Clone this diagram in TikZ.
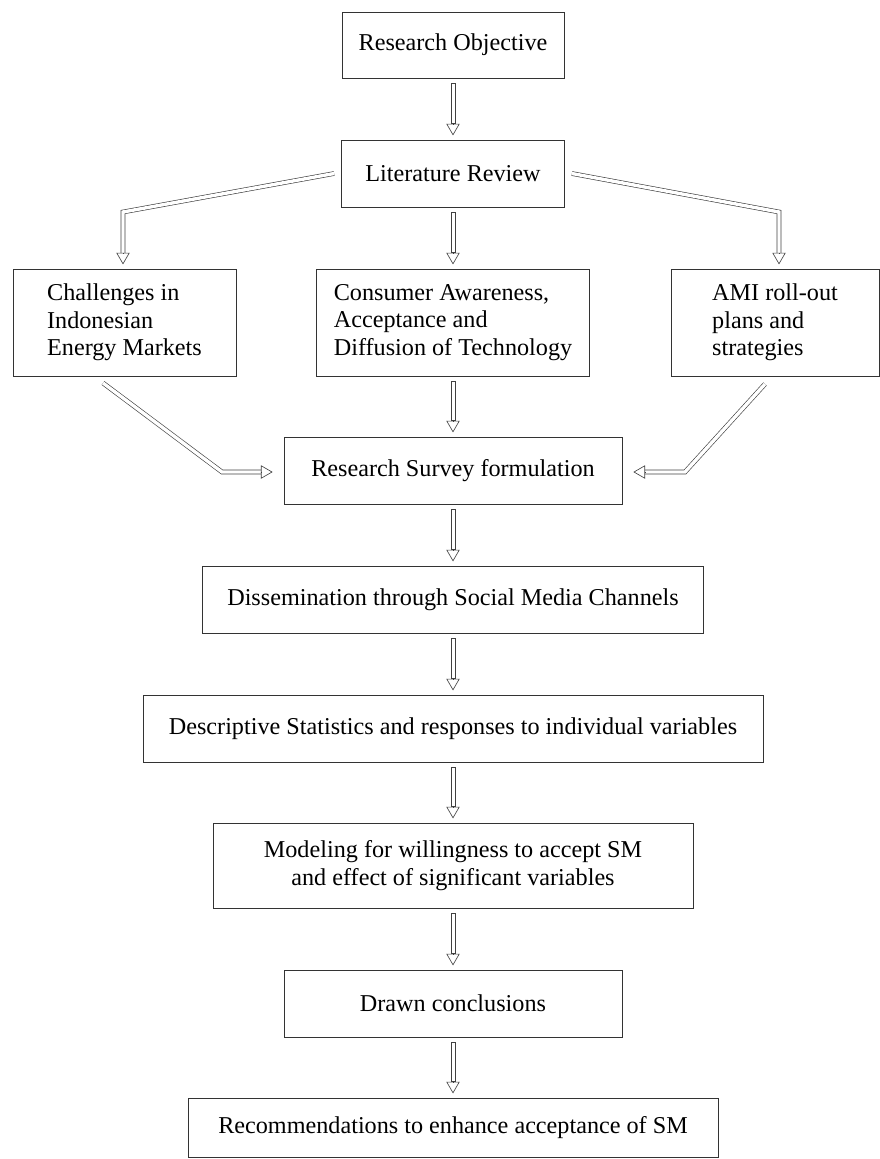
\documentclass[tikz,border=0pt]{standalone}
\usepackage{fontspec}
\setmainfont{Liberation Serif}
\usetikzlibrary{arrows.meta}

\begin{document}
\begin{tikzpicture}[x=0.025cm,y=-0.025cm,
    box/.style={draw=black!80, line width=0.5pt, align=left, inner sep=0pt,
      font=\fontsize{17.2pt}{19.5pt}\selectfont},
    shaft/.style={draw=black!75, double, double distance=2.4pt, line width=0.45pt},
    stem/.style={draw=black!75, line width=0.45pt},
    head/.style={draw=black!75, line width=0.45pt, -{Triangle[open,length=8.3pt,width=9.5pt]}}]
  \useasboundingbox (0,0) rectangle (880,1159);
  % boxes
  \node[box, minimum width=5.55cm, minimum height=1.65cm] (ro) at (453,45) {Research Objective};
  \node[box, minimum width=5.575cm, minimum height=1.675cm] (lit) at (453,173.5) {Literature Review};
  \node[box, minimum width=5.575cm, minimum height=2.675cm] (chal) at (124.5,322.5)
    {Challenges in\\Indonesian\\Energy Markets};
  \node[box, minimum width=6.825cm, minimum height=2.675cm] (cons) at (453,322.5)
    {Consumer Awareness,\\Acceptance and\\Diffusion of Technology};
  \node[box, minimum width=5.2cm, minimum height=2.675cm] (ami) at (775,322.5)
    {AMI roll-out\\plans and\\strategies};
  \node[box, minimum width=8.45cm, minimum height=1.675cm] (surv) at (453,470.5) {Research Survey formulation};
  \node[box, minimum width=12.525cm, minimum height=1.675cm] (diss) at (453,599.5)
    {Dissemination through Social Media Channels};
  \node[box, minimum width=15.5cm, minimum height=1.675cm] (desc) at (453,728.5)
    {Descriptive Statistics and responses to individual variables};
  \node[box, align=center, minimum width=12cm, minimum height=2.125cm] (model) at (453,865.5)
    {Modeling for willingness to accept SM\\and effect of significant variables};
  \node[box, minimum width=8.45cm, minimum height=1.675cm] (drawn) at (453,1003.5) {Drawn conclusions};
  \node[box, minimum width=13.25cm, minimum height=1.475cm] (rec) at (453,1127.5)
    {Recommendations to enhance acceptance of SM};
  % straight arrows down the middle
  \foreach \from/\to in {ro/lit, lit/cons, cons/surv, surv/diss, diss/desc, desc/model, model/drawn, drawn/rec} {
    \draw[stem] ([xshift=-1.4pt,yshift=-3.5pt]\from.south) rectangle ([xshift=1.4pt,yshift=11.3pt]\to.north);
    \draw[head] ([yshift=11.3pt]\to.north) -- ([yshift=3pt]\to.north);
  }
  % branches from the literature review
  \coordinate (lbend) at (123,212);
  \coordinate (rbend) at (779,212);
  \draw[shaft, shorten >=11.3pt] ([xshift=-5pt]lit.west) -- (lbend) -- (lbend |- chal.north);
  \draw[head] (lbend |- chal.north) ++(0,11.3pt) -- ++(0,-8.3pt);
  \draw[shaft, shorten >=11.3pt] ([xshift=5pt]lit.east) -- (rbend) -- (rbend |- ami.north);
  \draw[head] (rbend |- ami.north) ++(0,11.3pt) -- ++(0,-8.3pt);
  % side arrows into the survey
  \coordinate (lstart) at (103,383);
  \coordinate (lmid) at (222,472);
  \coordinate (rstart) at (765,384);
  \coordinate (rmid) at (685,472);
  \draw[shaft, shorten >=16.1pt] (lstart) -- (lmid) -- (lmid -| surv.west);
  \draw[head] (lmid -| surv.west) ++(-16.1pt,0) -- ++(8.3pt,0);
  \draw[shaft, shorten >=16.1pt] (rstart) -- (rmid) -- (rmid -| surv.east);
  \draw[head] (rmid -| surv.east) ++(16.1pt,0) -- ++(-8.3pt,0);
\end{tikzpicture}
\end{document}
